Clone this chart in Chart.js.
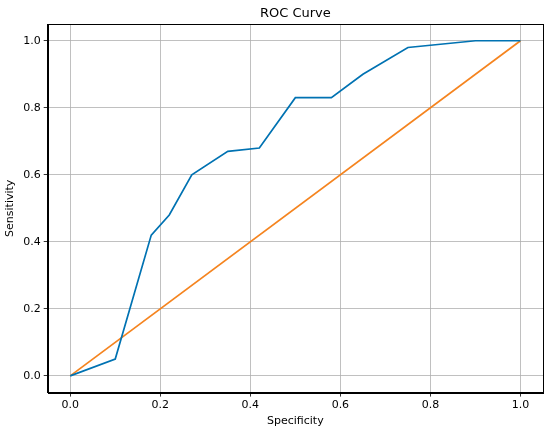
<!DOCTYPE html>
<html>
<head>
<meta charset="utf-8">
<script src="https://cdn.jsdelivr.net/npm/chart.js@4.4.1/dist/chart.umd.min.js"></script>
<style>
  html, body { margin: 0; padding: 0; background: #fff; }
  #wrap { width: 550px; height: 434px; }
</style>
</head>
<body>
<div id="wrap"><canvas id="rocChart" width="550" height="434"></canvas></div>
<script>
// ROC curve values
const specificity = [0, 0.1, 0.18, 0.22, 0.27, 0.35, 0.42, 0.5, 0.58, 0.65, 0.75, 0.9, 1.0];
const sensitivity = [0, 0.05, 0.42, 0.48, 0.60, 0.67, 0.68, 0.83, 0.83, 0.90, 0.98, 1.0, 1.0];
const chanceX = [0, 1];
const chanceY = [0, 1];
const tickValues = [0, 0.2, 0.4, 0.6, 0.8, 1.0];
const chartTitle = 'ROC Curve';

function toPoints(xs, ys) {
    return xs.map((x, i) => ({ x: x, y: ys[i] }));
}

// box around the plot (matplotlib spines) + title centred over the plot area
const frame = {
    id: 'frame',
    afterDraw(chart) {
        const a = chart.chartArea;
        const c = chart.ctx;
        c.save();
        c.strokeStyle = '#000';
        c.lineWidth = 1;
        c.strokeRect(Math.round(a.left) + 0.5, Math.round(a.top) + 0.5,
            Math.round(a.right - a.left), Math.round(a.bottom - a.top));
        c.fillStyle = '#000';
        c.font = '13px "DejaVu Sans"';
        c.textAlign = 'center';
        c.textBaseline = 'alphabetic';
        c.fillText(chartTitle, (a.left + a.right) / 2, a.top - 7);
        c.restore();
    }
};

const fixTicks = (axis) => {
    axis.ticks = tickValues.map(v => ({ value: v }));
};

const font = { family: 'DejaVu Sans', size: 11 };

document.addEventListener('DOMContentLoaded', function () {
    const ctx = document.getElementById('rocChart').getContext('2d');
    new Chart(ctx, {
        type: 'scatter',
        data: {
            datasets: [{
                label: 'ROC',
                data: toPoints(specificity, sensitivity),
                showLine: true,
                borderColor: '#0072b2',
                backgroundColor: '#0072b2',
                borderWidth: 1.7,
                pointRadius: 0,
                tension: 0
            }, {
                label: 'Chance',
                data: toPoints(chanceX, chanceY),
                showLine: true,
                borderColor: '#f5841f',
                backgroundColor: '#f5841f',
                borderWidth: 1.7,
                pointRadius: 0,
                tension: 0
            }]
        },
        options: {
            responsive: false,
            animation: false,
            layout: {
                padding: { left: 4, right: 7, top: 24, bottom: 6 }
            },
            scales: {
                x: {
                    type: 'linear',
                    min: -0.05,
                    max: 1.05,
                    afterBuildTicks: fixTicks,
                    grid: {
                        color: '#b0b0b0',
                        lineWidth: 0.8,
                        tickColor: '#000',
                        tickLength: 4
                    },
                    border: { color: '#000' },
                    ticks: {
                        color: '#000',
                        font: font,
                        padding: 2,
                        maxRotation: 0,
                        callback: v => v.toFixed(1)
                    },
                    title: {
                        display: true,
                        text: 'Specificity',
                        color: '#000',
                        font: font,
                        padding: { top: 1, bottom: 0 }
                    }
                },
                y: {
                    type: 'linear',
                    min: -0.05,
                    max: 1.05,
                    afterBuildTicks: fixTicks,
                    grid: {
                        color: '#b0b0b0',
                        lineWidth: 0.8,
                        tickColor: '#000',
                        tickLength: 4
                    },
                    border: { color: '#000' },
                    ticks: {
                        color: '#000',
                        font: font,
                        padding: 3,
                        callback: v => v.toFixed(1)
                    },
                    title: {
                        display: true,
                        text: 'Sensitivity',
                        color: '#000',
                        font: font,
                        padding: { top: 0, bottom: 3 }
                    }
                }
            },
            plugins: {
                legend: { display: false },
                tooltip: { enabled: false },
                title: { display: false }
            }
        },
        plugins: [frame]
    });
});
</script>
</body>
</html>
